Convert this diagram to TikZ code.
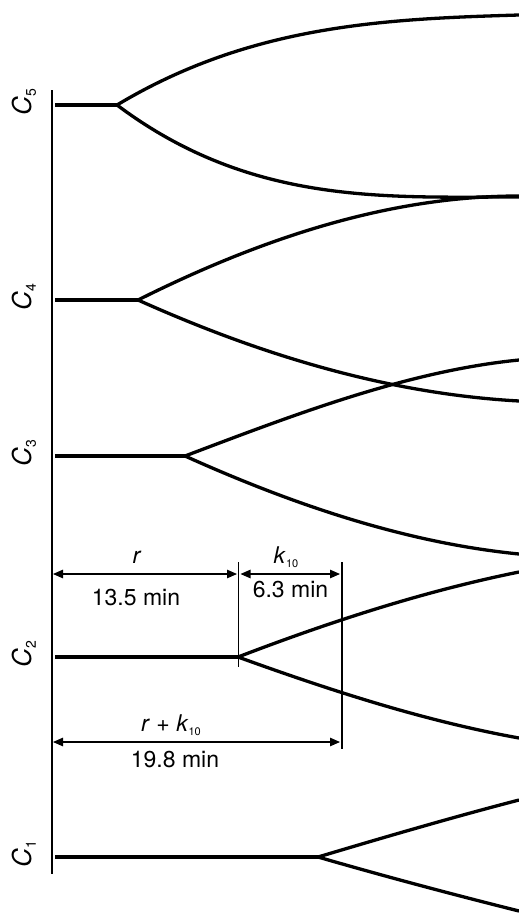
\documentclass[tikz,border=0pt]{standalone}
\usepackage{fontspec}
\setmainfont{TeX Gyre Heros}
\usetikzlibrary{arrows.meta}
\newcommand\dgsub[2]{\raisebox{-0.35ex}{\fontsize{#1}{#1}\selectfont #2}}
\begin{document}
\begin{tikzpicture}[x=1pt,y=-1pt,
  axis/.style={line width=1.4pt},
  stem/.style={line width=4pt},
  branch/.style={line width=3.3pt},
  dimline/.style={line width=1.1pt,{Triangle[length=10pt,width=8.5pt]}-{Triangle[length=10pt,width=8.5pt]}},
  tickline/.style={line width=1.1pt},
  lbl/.style={inner sep=0pt,font=\fontsize{23}{23}\selectfont},
  clbl/.style={inner sep=0pt,rotate=90,anchor=base,font=\fontsize{26}{26}\selectfont}]
\useasboundingbox (0,0) rectangle (519,913);
% axis
\coordinate (top) at (52,90);
\coordinate (bot) at (52,874);
\draw[axis] (top) -- (bot);
% labels
\node[clbl] (c5) at (31,102) {\textit{C}\dgsub{14}{5}};
\node[clbl] (c4) at (31,297) {\textit{C}\dgsub{14}{4}};
\node[clbl] (c3) at (31,453) {\textit{C}\dgsub{14}{3}};
\node[clbl] (c2) at (31,654) {\textit{C}\dgsub{14}{2}};
\node[clbl] (c1) at (31,854) {\textit{C}\dgsub{14}{1}};
% stems
\coordinate (a5) at (55,105); \coordinate (s5) at (117,105);
\coordinate (a4) at (55,300); \coordinate (s4) at (138,300);
\coordinate (a3) at (55,456); \coordinate (s3) at (185,456);
\coordinate (a2) at (55,657); \coordinate (s2) at (238,657);
\coordinate (a1) at (55,857); \coordinate (s1) at (318,857);
\foreach \i in {1,...,5} {\draw[stem] (a\i) -- (s\i);}
% branch ends
\coordinate (e5u) at (519,15);  \coordinate (e5l) at (519,197);
\coordinate (e4u) at (519,196); \coordinate (e4l) at (519,401);
\coordinate (e3u) at (519,360); \coordinate (e3l) at (519,554);
\coordinate (e2u) at (519,572); \coordinate (e2l) at (519,738);
\coordinate (e1u) at (519,800); \coordinate (e1l) at (519,911);
% branches
\draw[branch] (s5) .. controls (251,24.6) and (385,19) .. (e5u);
\draw[branch] (s5) .. controls (251,205.5) and (385,197) .. (e5l);
\draw[branch] (s4) .. controls (265,236.5) and (392,196) .. (e4u);
\draw[branch] (s4) .. controls (265,357) and (392,394) .. (e4l);
\draw[branch] (s3) .. controls (296,414) and (408,371) .. (e3u);
\draw[branch] (s3) .. controls (296,506) and (408,543) .. (e3l);
\draw[branch] (s2) .. controls (332,621) and (425,591) .. (e2u);
\draw[branch] (s2) .. controls (332,691) and (425,721) .. (e2l);
\draw[branch] (s1) .. controls (385,837) and (452,817.4) .. (e1u);
\draw[branch] (s1) .. controls (385,876.4) and (452,894.2) .. (e1l);
% dimension ticks
\coordinate (t1a) at (238.5,562); \coordinate (t1b) at (238.5,667);
\coordinate (t2a) at (342,562); \coordinate (t2b) at (342,749);
\draw[tickline] (t1a) -- (t1b);
\draw[tickline] (t2a) -- (t2b);
% dimension arrows
\coordinate (d1l) at (53,574);  \coordinate (d1r) at (237,574);
\coordinate (d2l) at (240.5,574); \coordinate (d2r) at (340,574);
\coordinate (d3l) at (53,742);  \coordinate (d3r) at (340,742);
\draw[dimline] (d1l) -- (d1r);
\draw[dimline] (d2l) -- (d2r);
\draw[dimline] (d3l) -- (d3r);
% dimension labels
\node[lbl] (rl) at (137,557) {\textit{r}};
\node[lbl] (t135) at (136,598) {13.5 min};
\node[lbl] (kl) at (286,557) {\textit{k}\dgsub{11}{10}};
\node[lbl] (t63) at (290.5,590) {6.3 min};
\node[lbl] (rkl) at (171,725) {\textit{r} + \textit{k}\dgsub{11}{10}};
\node[lbl] (t198) at (175,760) {19.8 min};
\end{tikzpicture}
\end{document}
